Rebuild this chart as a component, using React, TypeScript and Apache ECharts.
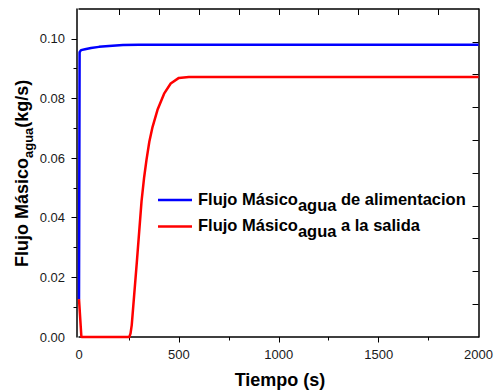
import React, { useEffect, useRef } from 'react';
import * as echarts from 'echarts';

// ---- data ----
const feedTime = [0, 3, 10, 30, 60, 100, 150, 220, 300, 2000];
const feedFlow = [0.0127, 0.0955, 0.0962, 0.0965, 0.0969, 0.0973, 0.0976, 0.0979, 0.098, 0.098];

const outTime = [0, 12, 252, 258, 264, 289, 313, 326, 338, 352, 368, 393, 426, 459, 500, 550, 2000];
const outFlow = [0.0127, 0, 0, 0.0012, 0.004, 0.0247, 0.0455, 0.0535, 0.0595, 0.0655, 0.0704, 0.0762, 0.0816, 0.085, 0.0869, 0.0872, 0.0872];

const seriesNames = ['Flujo Másico agua de alimentacion', 'Flujo Másico agua a la salida'];
const seriesColors = ['#0000ff', '#ff0000'];
const legendMain = ['Flujo Másico', 'Flujo Másico'];
const legendSub = ['agua', 'agua'];
const legendRest = [' de alimentacion', ' a la salida'];

const xTitle = 'Tiempo (s)';
const yTitleMain = 'Flujo Másico';
const yTitleSub = 'agua';
const yTitleRest = '(kg/s)';

// axis ranges and tick steps
const X_MIN = 0, X_MAX = 2000, X_STEP = 500;
const Y_MIN = 0, Y_MAX = 0.11, Y_STEP = 0.02;
const TOP_SPLIT = 10;     // inner ticks on the top frame edge
const RIGHT_SPLIT = 10;   // inner ticks on the right frame edge

const FONT = '"Liberation Sans", Arial, Helvetica, sans-serif';

function textW(t: string, size: number, weight = 'bold') {
  const ctx = document.createElement('canvas').getContext('2d')!;
  ctx.font = `${weight} ${size}px ${FONT}`;
  return ctx.measureText(t).width;
}

const mid = (baseline: number, size: number) => baseline - 0.3465 * size;

export default function App() {
  const ref = useRef<HTMLDivElement>(null);

  useEffect(() => {
    if (!ref.current) return;
    const chart = echarts.init(ref.current, null, { renderer: 'svg' });

    const mkLine = () => ({ show: true, onZero: false, lineStyle: { color: '#000', width: 1.5 } });
    const noLine = () => ({ show: false, onZero: false });
    const tinyTick = (inside: boolean) => ({ show: true, inside, length: 0.01, lineStyle: { color: '#000' } });
    const minor = (split: number, length: number) => ({ show: true, splitNumber: split, length, lineStyle: { color: '#000' } });
    const labelStyle = { fontFamily: FONT, fontSize: 13, color: '#1a1a1a' };

    // ---- legend ----
    const LS = 16.5;
    const legendGraphics: any[] = [];
    const legX = 198;
    const lineY = [200, 226.5];
    const baseY = [205, 231];
    for (let i = 0; i < 2; i++) {
      const w1 = textW(legendMain[i], LS);
      const w2 = textW(legendSub[i], LS);
      legendGraphics.push({
        type: 'line',
        shape: { x1: 158, y1: lineY[i], x2: 192, y2: lineY[i] },
        style: { stroke: seriesColors[i], lineWidth: 2.5 },
      });
      legendGraphics.push({
        type: 'text', x: legX, y: mid(baseY[i], LS),
        style: { text: legendMain[i], fontFamily: FONT, fontSize: LS, fontWeight: 'bold', fill: '#000', verticalAlign: 'middle', align: 'left' },
      });
      legendGraphics.push({
        type: 'text', x: legX + w1, y: mid(baseY[i] + 5.5, LS),
        style: { text: legendSub[i], fontFamily: FONT, fontSize: LS, fontWeight: 'bold', fill: '#000', verticalAlign: 'middle', align: 'left' },
      });
      legendGraphics.push({
        type: 'text', x: legX + w1 + w2, y: mid(baseY[i], LS),
        style: { text: legendRest[i], fontFamily: FONT, fontSize: LS, fontWeight: 'bold', fill: '#000', verticalAlign: 'middle', align: 'left' },
      });
    }

    // ---- axis titles ----
    const yw1 = textW(yTitleMain, 18);
    const yw2 = textW(yTitleSub, 13);
    const yTitle = {
      type: 'group',
      x: 28.5,
      y: 267,
      rotation: Math.PI / 2,
      children: [
        { type: 'text', x: 0, y: mid(0, 18), style: { text: yTitleMain, fontFamily: FONT, fontSize: 18, fontWeight: 'bold', fill: '#000', verticalAlign: 'middle', align: 'left' } },
        { type: 'text', x: yw1, y: mid(4.5, 13), style: { text: yTitleSub, fontFamily: FONT, fontSize: 13, fontWeight: 'bold', fill: '#000', verticalAlign: 'middle', align: 'left' } },
        { type: 'text', x: yw1 + yw2, y: mid(0, 18), style: { text: yTitleRest, fontFamily: FONT, fontSize: 18, fontWeight: 'bold', fill: '#000', verticalAlign: 'middle', align: 'left' } },
      ],
    };

    const xTitleG = {
      type: 'text', x: 280, y: mid(386.5, 18),
      style: { text: xTitle, fontFamily: FONT, fontSize: 18, fontWeight: 'bold', fill: '#000', verticalAlign: 'middle', align: 'center' },
    };

    chart.setOption({
      animation: false,
      backgroundColor: '#fff',
      grid: { left: 79, right: 13, top: 9, bottom: 55 },
      xAxis: [
        {
          // main bottom axis: labels + short ticks at 250, 750, ...
          type: 'value', position: 'bottom', min: X_MIN, max: X_MAX, interval: X_STEP,
          axisLine: mkLine(),
          axisTick: tinyTick(false),
          minorTick: minor(2, 3.5),
          axisLabel: { ...labelStyle, margin: 11, formatter: (v: number) => String(v) },
          splitLine: { show: false }, minorSplitLine: { show: false },
        },
        {
          // top frame edge with inner ticks
          type: 'value', position: 'top', min: X_MIN, max: X_MAX, interval: X_MAX - X_MIN,
          axisLine: mkLine(),
          axisTick: tinyTick(true),
          minorTick: minor(TOP_SPLIT, 6),
          axisLabel: { show: false }, splitLine: { show: false }, minorSplitLine: { show: false },
        },
        {
          // long ticks at 500, 1000, 1500 on the bottom axis
          type: 'value', position: 'bottom', min: X_MIN, max: X_MAX, interval: X_MAX - X_MIN,
          axisLine: noLine(),
          axisTick: tinyTick(false),
          minorTick: minor((X_MAX - X_MIN) / X_STEP, 5.5),
          axisLabel: { show: false }, splitLine: { show: false }, minorSplitLine: { show: false },
        },
      ],
      yAxis: [
        {
          // main left axis: labels + short ticks at odd hundredths
          type: 'value', position: 'left', offset: 2, min: Y_MIN, max: Y_MAX, interval: Y_STEP,
          axisLine: mkLine(),
          axisTick: tinyTick(false),
          minorTick: minor(2, 3.5),
          axisLabel: {
            ...labelStyle, margin: 12,
            formatter: (v: number) => (v > 0.105 ? '' : v.toFixed(2)),
          },
          splitLine: { show: false }, minorSplitLine: { show: false },
        },
        {
          // right frame edge with inner ticks
          type: 'value', position: 'right', min: 0, max: RIGHT_SPLIT, interval: RIGHT_SPLIT,
          axisLine: mkLine(),
          axisTick: tinyTick(true),
          minorTick: minor(RIGHT_SPLIT, 6),
          axisLabel: { show: false }, splitLine: { show: false }, minorSplitLine: { show: false },
        },
        {
          // long ticks at 0.02 ... 0.10 (inverted copy of the left scale; its minor ticks fall on the majors)
          type: 'value', position: 'left', offset: 2, inverse: true, min: Y_MIN, max: Y_MAX, interval: Y_STEP,
          axisLine: noLine(),
          axisTick: tinyTick(false),
          minorTick: minor(2, 5.5),
          axisLabel: { show: false }, splitLine: { show: false }, minorSplitLine: { show: false },
        },
      ],
      series: [
        {
          name: seriesNames[0], type: 'line', xAxisIndex: 0, yAxisIndex: 0,
          data: feedTime.map((t, i) => [t, feedFlow[i]]),
          showSymbol: false, symbol: 'none', clip: false,
          lineStyle: { color: seriesColors[0], width: 2.5 },
          itemStyle: { color: seriesColors[0] },
          z: 3,
        },
        {
          name: seriesNames[1], type: 'line', xAxisIndex: 0, yAxisIndex: 0,
          data: outTime.map((t, i) => [t, outFlow[i]]),
          showSymbol: false, symbol: 'none', clip: false,
          lineStyle: { color: seriesColors[1], width: 2.5 },
          itemStyle: { color: seriesColors[1] },
          z: 4,
        },
      ],
      graphic: [...legendGraphics, yTitle, xTitleG],
    });

    return () => chart.dispose();
  }, []);

  return (
    <div
      ref={ref}
      style={{ position: 'fixed', left: 0, top: 0, width: 496, height: 392, background: '#fff' }}
    />
  );
}
